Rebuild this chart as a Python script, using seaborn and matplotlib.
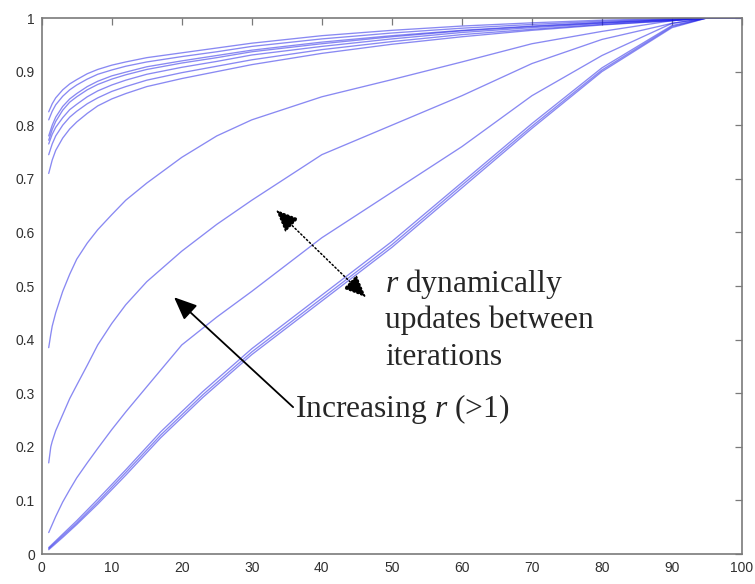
import numpy as np
import pandas as pd
import matplotlib
matplotlib.use("Agg")
import matplotlib.pyplot as plt
import seaborn as sns

# ---- data ----
x_bundle = [1, 1.5, 2, 3, 4, 5, 6.5, 8, 10, 12, 15, 20, 25, 30, 40, 50, 60, 70, 80, 90, 95, 100]
bundle_1 = [.825, .840, .851, .866, .877, .885, .896, .904, .912, .918, .926, .935, .944, .953, .967, .977, .985, .991, .996, .999, 1, 1]
bundle_2 = [.810, .826, .838, .854, .866, .875, .886, .895, .903, .910, .918, .928, .937, .947, .961, .972, .981, .988, .994, .998, 1, 1]
bundle_3 = [.780, .800, .815, .835, .849, .859, .872, .882, .892, .899, .909, .920, .930, .940, .955, .967, .977, .985, .992, .997, 1, 1]
bundle_4 = [.772, .792, .807, .828, .843, .853, .866, .876, .886, .894, .904, .916, .926, .937, .952, .965, .976, .984, .991, .997, 1, 1]
bundle_5 = [.765, .783, .796, .814, .829, .839, .853, .864, .875, .884, .895, .908, .919, .931, .947, .961, .973, .982, .990, .996, 1, 1]
bundle_6 = [.745, .765, .780, .800, .815, .826, .840, .851, .863, .872, .884, .898, .910, .922, .941, .956, .969, .979, .988, .995, 1, 1]
bundle_7 = [.710, .735, .753, .776, .793, .806, .822, .836, .849, .859, .872, .887, .900, .913, .934, .951, .965, .977, .987, .995, 1, 1]

curve_a_x = [1, 1.3, 1.5, 2, 3, 4, 5, 6.5, 8, 10, 12, 15, 20, 25, 30, 40, 50, 60, 70, 80, 90, 95, 100]
curve_a = [.385, .41, .425, .45, .49, .522, .55, .58, .605, .633, .66, .692, .74, .78, .81, .853, .885, .918, .952, .975, .995, 1, 1]

curve_b_x = [1, 1.3, 1.5, 2, 3, 4, 5, 6.5, 8, 10, 12, 15, 20, 25, 30, 40, 50, 60, 70, 80, 90, 95, 100]
curve_b = [.17, .20, .21, .23, .26, .29, .315, .352, .39, .43, .465, .508, .565, .615, .66, .745, .80, .855, .915, .96, .99, 1, 1]

curve_c_x = [1, 2, 3, 4, 5, 6.5, 8, 10, 12, 15, 20, 25, 30, 40, 50, 60, 70, 80, 90, 95, 100]
curve_c = [.04, .07, .097, .12, .142, .17, .197, .232, .265, .312, .39, .442, .49, .59, .675, .76, .855, .93, .99, 1, 1]

curve_d_x = [1, 3, 5, 8, 12, 17, 23, 30, 40, 50, 60, 70, 80, 90, 95, 100]
curve_d1 = [.012, .037, .062, .102, .157, .228, .303, .383, .483, .583, .693, .803, .907, .986, 1, 1]
curve_d2 = [.010, .034, .058, .097, .152, .222, .297, .377, .477, .577, .688, .798, .903, .984, 1, 1]
curve_d3 = [.008, .031, .055, .093, .147, .217, .292, .372, .472, .572, .683, .794, .900, .982, 1, 1]

xticks = [0, 10, 20, 30, 40, 50, 60, 70, 80, 90, 100]
yticks = [0, 0.1, 0.2, 0.3, 0.4, 0.5, 0.6, 0.7, 0.8, 0.9, 1]
ytick_labels = ["0", "0.1", "0.2", "0.3", "0.4", "0.5", "0.6", "0.7", "0.8", "0.9", "1"]

# ---- build long-form table ----
frames = []
for name, xs, ys in [
    ("b1", x_bundle, bundle_1), ("b2", x_bundle, bundle_2), ("b3", x_bundle, bundle_3),
    ("b4", x_bundle, bundle_4), ("b5", x_bundle, bundle_5), ("b6", x_bundle, bundle_6),
    ("b7", x_bundle, bundle_7), ("a", curve_a_x, curve_a), ("b", curve_b_x, curve_b),
    ("c", curve_c_x, curve_c), ("d1", curve_d_x, curve_d1), ("d2", curve_d_x, curve_d2),
    ("d3", curve_d_x, curve_d3)]:
    frames.append(pd.DataFrame({"x": xs, "y": ys, "curve": name}))
df = pd.concat(frames, ignore_index=True)

sns.set_style("white")
plt.rcParams["font.family"] = ["Liberation Sans", "DejaVu Sans"]
plt.rcParams["mathtext.fontset"] = "custom"
plt.rcParams["mathtext.it"] = "Liberation Serif:italic"
plt.rcParams["mathtext.rm"] = "Liberation Serif"

fig = plt.figure(figsize=(7.55, 5.84), dpi=100)
ax = fig.add_axes([41.7 / 755, 1 - 554 / 584, (742 - 41.7) / 755, (554 - 18) / 584])

sns.lineplot(data=df, x="x", y="y", units="curve", estimator=None, sort=False,
             color="#1414e6", alpha=0.5, linewidth=0.95, ax=ax, legend=False)

ax.set_xlim(0, 100)
ax.set_ylim(0, 1)
ax.set_xticks(xticks)
ax.set_xticklabels([str(t) for t in xticks])
ax.set_yticks(yticks)
ax.set_yticklabels(ytick_labels)
ax.set_xlabel("")
ax.set_ylabel("")
for s in ax.spines.values():
    s.set_visible(True)
    s.set_color("#7a7a7a")
    s.set_linewidth(1.2)
ax.tick_params(direction="in", length=5, width=0.9, color="#7a7a7a",
               top=True, right=True, labelsize=10, labelcolor="#303030", pad=5)

serif = ["Liberation Serif", "DejaVu Serif"]
fs = 22.7
ax.text(49.0, 0.489, r"$\mathit{r}$ dynamically", family=serif, fontsize=fs, ha="left", va="baseline")
ax.text(49.0, 0.4216, "updates between", family=serif, fontsize=fs, ha="left", va="baseline")
ax.text(49.0, 0.3526, "iterations", family=serif, fontsize=fs, ha="left", va="baseline")
ax.text(36.17, 0.2556, r"Increasing $\mathit{r}$ (>1)", family=serif, fontsize=fs, ha="left", va="baseline")

# solid arrow
ax.annotate("", xy=(18.9, 0.479), xytext=(35.9, 0.274),
            arrowprops=dict(arrowstyle="-|>,head_length=1.4,head_width=0.6", color="black",
                            lw=1.3, shrinkA=0, shrinkB=0))
# dotted double-headed arrow
ax.annotate("", xy=(33.46, 0.642), xytext=(46.3, 0.479),
            arrowprops=dict(arrowstyle="<|-|>,head_length=1.4,head_width=0.6", color="black",
                            lw=1.1, linestyle=(0, (1, 1.6)), shrinkA=0, shrinkB=0))

fig.savefig("out.png", dpi=100, facecolor="white")
